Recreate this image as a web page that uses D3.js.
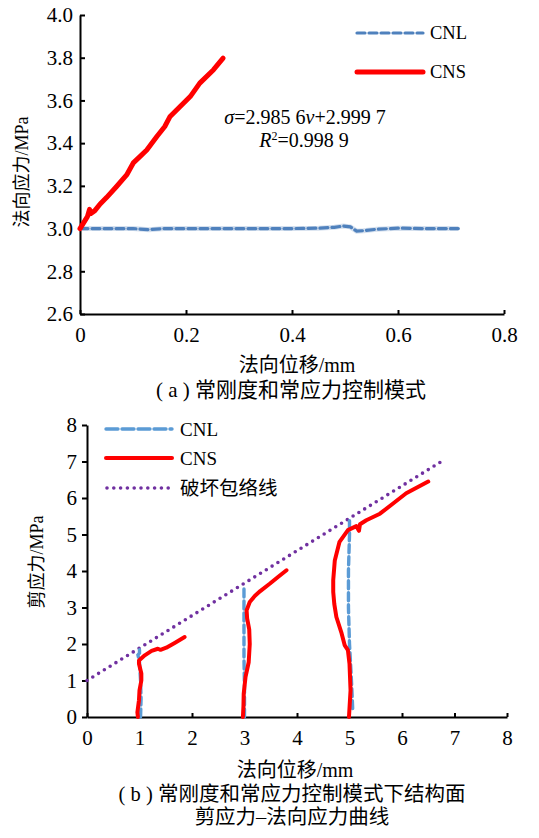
<!DOCTYPE html>
<html>
<head>
<meta charset="utf-8">
<script src="https://cdn.jsdelivr.net/npm/d3@7"></script>
<style>
  html, body { margin: 0; padding: 0; background: #ffffff; }
  svg { display: block; }
</style>
</head>
<body>
<script>
// ---- data: (a) normal stress vs normal displacement ----
const aCnl = [
  [0, 3.0], [0.03, 3.0], [0.06, 3.0], [0.1, 3.0], [0.13, 2.995], [0.16, 3.0],
  [0.2, 3.0], [0.25, 3.0], [0.3, 3.0], [0.35, 3.0], [0.4, 3.0], [0.45, 3.002],
  [0.48, 3.006], [0.497, 3.012], [0.51, 3.008], [0.522, 2.988], [0.535, 2.99],
  [0.56, 2.997], [0.6, 3.002], [0.65, 3.0], [0.68, 3.0], [0.714, 3.0]
];
const aCns = [
  [0, 3.0], [0.014, 3.056], [0.018, 3.09], [0.02, 3.07], [0.028, 3.084],
  [0.038, 3.115], [0.05, 3.145], [0.069, 3.197], [0.088, 3.251], [0.101, 3.309],
  [0.113, 3.337], [0.126, 3.368], [0.145, 3.431], [0.16, 3.478], [0.17, 3.525],
  [0.189, 3.572], [0.208, 3.618], [0.226, 3.681], [0.252, 3.744], [0.27, 3.798]
];
const aXTicks = [0, 0.2, 0.4, 0.6, 0.8];
const aYTicks = [2.6, 2.8, 3.0, 3.2, 3.4, 3.6, 3.8, 4.0];

// ---- data: (b) shear stress vs normal displacement ----
const bCnl = [
  [
    [1.02, 0], [1.03, 0.5], [1.02, 1.0], [1.0, 1.5], [0.97, 1.7], [1.0, 1.75], [1.0, 1.92]
  ],
  [
    [3.0, 0], [3.0, 0.8], [2.99, 1.6], [2.99, 2.4], [2.99, 3.0], [2.99, 3.61]
  ],
  [
    [5.06, 0.23], [5.05, 0.6], [5.03, 1.2], [5.0, 2.0], [4.98, 3.0], [4.98, 4.0],
    [5.0, 5.0], [5.0, 5.48]
  ]
];
const bCns = [
  [
    [0.97, 0], [0.96, 0.13], [0.99, 0.46], [1.0, 0.73], [1.035, 1.0], [1.035, 1.19],
    [0.99, 1.46], [0.99, 1.55], [1.1, 1.69], [1.23, 1.81], [1.35, 1.87], [1.4, 1.84],
    [1.51, 1.9], [1.67, 2.03], [1.86, 2.19]
  ],
  [
    [2.97, 0], [2.98, 0.3], [2.985, 0.64], [3.02, 1.1], [3.08, 1.5], [3.1, 2.0],
    [3.09, 2.4], [3.05, 2.7], [3.04, 2.92], [3.1, 3.15], [3.2, 3.32], [3.3, 3.45],
    [3.48, 3.65], [3.65, 3.85], [3.8, 4.02]
  ],
  [
    [4.99, 0], [5.02, 0.73], [5.0, 1.46], [4.97, 1.83], [4.91, 1.96], [4.85, 2.29],
    [4.75, 2.74], [4.71, 3.1], [4.69, 3.43], [4.69, 3.75], [4.72, 4.29], [4.81, 4.8],
    [4.97, 5.12], [5.13, 5.23], [5.18, 5.1], [5.2, 5.28], [5.32, 5.39], [5.58, 5.57],
    [5.83, 5.85], [6.08, 6.13], [6.5, 6.45]
  ]
];
const bEnvelope = [[0, 1.0], [6.75, 7.0]];
const bXTicks = [0, 1, 2, 3, 4, 5, 6, 7, 8];
const bYTicks = [0, 1, 2, 3, 4, 5, 6, 7, 8];

const width = 539;
const height = 838;
const font = "'Liberation Serif', 'Noto Sans CJK SC', serif";

const red = "#ff0000";
const blueA = "#4f81bd";
const blueB = "#5b9bd5";
const purple = "#7030a0";

const svg = d3.select("body").append("svg")
  .attr("width", width)
  .attr("height", height)
  .style("font-family", font);

function styleAxis(sel) {
  sel.attr("font-family", font).attr("font-size", 21);
  sel.selectAll("text").attr("fill", "#000");
  sel.selectAll("line, path").attr("stroke", "#000").attr("stroke-width", 2);
}

// ================= (a) =================
const xa = d3.scaleLinear().domain([0, 0.8]).range([80, 504]);
const ya = d3.scaleLinear().domain([2.6, 4.0]).range([314, 15]);

svg.append("g")
  .attr("transform", `translate(0,${ya(2.6)})`)
  .call(d3.axisBottom(xa)
    .tickValues(aXTicks)
    .tickSizeInner(-4)
    .tickSizeOuter(0)
    .tickPadding(13)
    .tickFormat(d => d === 0 ? "0" : d3.format(".1f")(d)))
  .call(styleAxis);

svg.append("g")
  .attr("transform", `translate(${xa(0)},0)`)
  .call(d3.axisLeft(ya)
    .tickValues(aYTicks)
    .tickSizeInner(-5)
    .tickSizeOuter(0)
    .tickPadding(7)
    .tickFormat(d3.format(".1f")))
  .call(styleAxis);

const lineA = d3.line().x(d => xa(d[0])).y(d => ya(d[1]));

// CNL: light halo then dashed line
svg.append("path")
  .datum(aCnl)
  .attr("d", lineA)
  .attr("fill", "none")
  .attr("stroke", "#d5e0ee")
  .attr("stroke-width", 5);
svg.append("path")
  .datum(aCnl)
  .attr("d", lineA)
  .attr("fill", "none")
  .attr("stroke", blueA)
  .attr("stroke-width", 3.2)
  .attr("stroke-dasharray", "8,4")
  .attr("stroke-linecap", "round");

svg.append("path")
  .datum(aCns)
  .attr("d", lineA)
  .attr("fill", "none")
  .attr("stroke", red)
  .attr("stroke-width", 5)
  .attr("stroke-linejoin", "round")
  .attr("stroke-linecap", "round");

// legend (a)
const legA = svg.append("g");
legA.append("line")
  .attr("x1", 357).attr("x2", 423).attr("y1", 33).attr("y2", 33)
  .attr("stroke", blueA).attr("stroke-width", 3.2)
  .attr("stroke-dasharray", "8,4").attr("stroke-linecap", "round");
legA.append("text")
  .attr("x", 430).attr("y", 33).attr("dy", "0.35em")
  .attr("font-size", 18.5).text("CNL");
legA.append("line")
  .attr("x1", 357).attr("x2", 423).attr("y1", 72).attr("y2", 72)
  .attr("stroke", red).attr("stroke-width", 5).attr("stroke-linecap", "round");
legA.append("text")
  .attr("x", 430).attr("y", 72).attr("dy", "0.35em")
  .attr("font-size", 18.5).text("CNS");

// regression annotation
const eq1 = svg.append("text")
  .attr("x", 305).attr("y", 124)
  .attr("text-anchor", "middle")
  .attr("font-size", 20);
eq1.append("tspan").attr("font-style", "italic").text("σ");
eq1.append("tspan").text("=2.985 6");
eq1.append("tspan").attr("font-style", "italic").text("v");
eq1.append("tspan").text("+2.999 7");

const eq2 = svg.append("text")
  .attr("x", 304).attr("y", 147)
  .attr("text-anchor", "middle")
  .attr("font-size", 20);
eq2.append("tspan").attr("font-style", "italic").text("R");
eq2.append("tspan").attr("font-size", 12).attr("dy", -7).text("2");
eq2.append("tspan").attr("dy", 7).text("=0.998 9");

svg.append("text")
  .attr("transform", "translate(22,172) rotate(-90)")
  .attr("text-anchor", "middle")
  .attr("dy", "0.35em")
  .attr("font-size", 18)
  .text("法向应力/MPa");

svg.append("text")
  .attr("x", 297).attr("y", 365)
  .attr("text-anchor", "middle")
  .attr("dy", "0.35em")
  .attr("font-size", 20)
  .text("法向位移/mm");

svg.append("text")
  .attr("x", 291).attr("y", 390)
  .attr("text-anchor", "middle")
  .attr("dy", "0.35em")
  .attr("font-size", 21)
  .text("( a ) 常刚度和常应力控制模式");

// ================= (b) =================
const xb = d3.scaleLinear().domain([0, 8]).range([87, 507]);
const yb = d3.scaleLinear().domain([0, 8]).range([717, 425]);

svg.append("g")
  .attr("transform", `translate(0,${yb(0)})`)
  .call(d3.axisBottom(xb)
    .tickValues(bXTicks)
    .tickSizeInner(-4)
    .tickSizeOuter(0)
    .tickPadding(13)
    .tickFormat(d3.format("d")))
  .call(styleAxis);

svg.append("g")
  .attr("transform", `translate(${xb(0)},0)`)
  .call(d3.axisLeft(yb)
    .tickValues(bYTicks)
    .tickSizeInner(5)
    .tickSizeOuter(0)
    .tickPadding(5)
    .tickFormat(d3.format("d")))
  .call(styleAxis);

const lineB = d3.line().x(d => xb(d[0])).y(d => yb(d[1]));

svg.append("path")
  .datum(bEnvelope)
  .attr("d", lineB)
  .attr("fill", "none")
  .attr("stroke", purple)
  .attr("stroke-width", 3.6)
  .attr("stroke-dasharray", "0,6.8")
  .attr("stroke-linecap", "round");

svg.append("g")
  .selectAll("path")
  .data(bCnl)
  .join("path")
  .attr("d", lineB)
  .attr("fill", "none")
  .attr("stroke", blueB)
  .attr("stroke-width", 3.4)
  .attr("stroke-dasharray", "8,4")
  .attr("stroke-linecap", "round");

svg.append("g")
  .selectAll("path")
  .data(bCns)
  .join("path")
  .attr("d", lineB)
  .attr("fill", "none")
  .attr("stroke", red)
  .attr("stroke-width", 4)
  .attr("stroke-linejoin", "round")
  .attr("stroke-linecap", "round");

// legend (b)
const legB = svg.append("g");
legB.append("line")
  .attr("x1", 106).attr("x2", 172).attr("y1", 429).attr("y2", 429)
  .attr("stroke", blueB).attr("stroke-width", 3.4)
  .attr("stroke-dasharray", "12,4").attr("stroke-linecap", "round");
legB.append("text")
  .attr("x", 180).attr("y", 429).attr("dy", "0.35em")
  .attr("font-size", 19).text("CNL");
legB.append("line")
  .attr("x1", 106).attr("x2", 172).attr("y1", 458).attr("y2", 458)
  .attr("stroke", red).attr("stroke-width", 4).attr("stroke-linecap", "round");
legB.append("text")
  .attr("x", 180).attr("y", 458).attr("dy", "0.35em")
  .attr("font-size", 19).text("CNS");
legB.append("line")
  .attr("x1", 107).attr("x2", 172).attr("y1", 488).attr("y2", 488)
  .attr("stroke", purple).attr("stroke-width", 3.6)
  .attr("stroke-dasharray", "0,6.8").attr("stroke-linecap", "round");
legB.append("text")
  .attr("x", 180).attr("y", 488).attr("dy", "0.35em")
  .attr("font-size", 19.5).text("破坏包络线");

svg.append("text")
  .attr("transform", "translate(37,562) rotate(-90)")
  .attr("text-anchor", "middle")
  .attr("dy", "0.35em")
  .attr("font-size", 18)
  .text("剪应力/MPa");

svg.append("text")
  .attr("x", 295).attr("y", 770)
  .attr("text-anchor", "middle")
  .attr("dy", "0.35em")
  .attr("font-size", 20)
  .text("法向位移/mm");

svg.append("text")
  .attr("x", 292).attr("y", 794)
  .attr("text-anchor", "middle")
  .attr("dy", "0.35em")
  .attr("font-size", 20.5)
  .text("( b ) 常刚度和常应力控制模式下结构面");

svg.append("text")
  .attr("x", 292).attr("y", 817)
  .attr("text-anchor", "middle")
  .attr("dy", "0.35em")
  .attr("font-size", 20.5)
  .text("剪应力–法向应力曲线");
</script>
</body>
</html>
